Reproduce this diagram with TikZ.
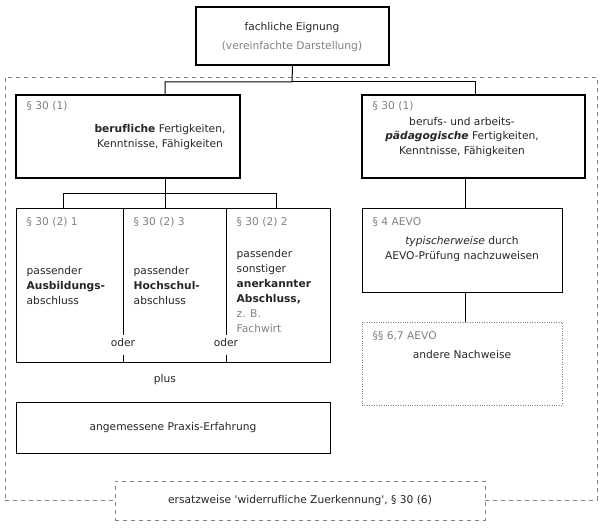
\documentclass[tikz,border=0pt]{standalone}
\usepackage{fontspec}
\setmainfont{DejaVu Sans}[Ligatures=NoCommon]
\usetikzlibrary{fit}
\definecolor{gr}{RGB}{128,128,128}
\begin{document}
\begin{tikzpicture}[x=0.75pt,y=-0.75pt,
  every node/.style={font=\fontsize{8}{11.2}\selectfont, text=black!85},
  box/.style={draw, inner sep=0pt, line width=0.75pt},
  thick box/.style={draw, inner sep=0pt, line width=1.6pt},
  dbox/.style={draw=gr, dashed, inner sep=0pt, line width=0.6pt},
  dotbox/.style={draw=gr, dash pattern=on 0.6pt off 1.2pt, inner sep=0pt, line width=0.6pt},
  ln/.style={line width=0.75pt},
  par/.style={text=gr, anchor=west},
  txt/.style={align=center},
  ltxt/.style={align=left, anchor=north west}]
\useasboundingbox (0,0) rectangle (609,531);
% outer dashed frame
\node[dbox, fit={(5,77)(597,500)}] (outer) {};
% top
\node[thick box, fill=white, fit={(196,7)(389,65)}] (top) {};
\node[txt] (t1) at (292,28) {fachliche Eignung};
\node[txt, text=gr] (t2) at (292,47) {(vereinfachte Darstellung)};
% level 1
\node[thick box, fit={(16,95)(240,178)}] (b1) {};
\node[thick box, fit={(362,95)(585,178)}] (b2) {};
\node[par] (p1) at (22,106) {§ 30 (1)};
\node[txt] (b1t) at (160,137) {\textbf{berufliche} Fertigkeiten,\\Kenntnisse, Fähigkeiten};
\node[par] (p2) at (368,106) {§ 30 (1)};
\node[txt] (b2t) at (462,137) {berufs- und arbeits-\\\textbf{\textit{pädagogische}} Fertigkeiten,\\Kenntnisse, Fähigkeiten};
\coordinate (j1) at (292,82);
\draw[ln] (top.south) -- (j1) -| (165,95);
\draw[ln] (j1) -| (475,95);
% three columns
\node[box, fit={(16,208)(330,362)}] (c) {};
\coordinate (j2) at (165,193);
\draw[ln] (165,178) -- (j2) -| (63,208);
\draw[ln] (j2) -| (276,208);
\draw[ln] (j2) -- (165,208);
\draw[ln] (123,208) -- (123,335) (123,355) -- (123,362);
\draw[ln] (226,208) -- (226,335) (226,355) -- (226,362);
\node (o1) at (123,343) {oder};
\node (o2) at (226,343) {oder};
\node[par] (c1p) at (22,222) {§ 30 (2) 1};
\node[par] (c2p) at (129,222) {§ 30 (2) 3};
\node[par] (c3p) at (232,222) {§ 30 (2) 2};
\node[ltxt] (c1t) at (22,262) {passender\\\textbf{Ausbildungs-}\\abschluss};
\node[ltxt] (c2t) at (129,262) {passender\\\textbf{Hochschul-}\\abschluss};
\node[ltxt] (c3t) at (232,245) {passender\\sonstiger\\\textbf{anerkannter}\\\textbf{Abschluss,}\\\textcolor{gr}{z. B.}};
\begin{scope}
\clip (227,320) rectangle (329,332);
\node[par] (c3f) at (232,329) {Fachwirt};
\end{scope}
\node (plus) at (165,380) {plus};
\node[box, fit={(16,402)(330,453)}] (px) {};
\node (pxt) at (px.center) {angemessene Praxis-Erfahrung};
% right column
\node[box, fit={(362,208)(562,292)}] (a4) {};
\node[par] (a4p) at (368,222) {§ 4 AEVO};
\node[txt] (a4t) at (462,249) {\textit{typischerweise} durch\\AEVO-Prüfung nachzuweisen};
\node[dotbox, fit={(362,322)(562,405)}] (a6) {};
\node[par] (a6p) at (368,336) {§§ 6,7 AEVO};
\node (a6t) at (462,355) {andere Nachweise};
\draw[ln] (465,178) -- (465,208);
\draw[ln] (465,292) -- (465,322);
% bottom
\node[dbox, fill=white, fit={(115,481)(485,520)}] (ez) {};
\node (ezt) at (ez.center) {ersatzweise \textquotesingle widerrufliche Zuerkennung\textquotesingle, § 30 (6)};
\end{tikzpicture}
\end{document}
